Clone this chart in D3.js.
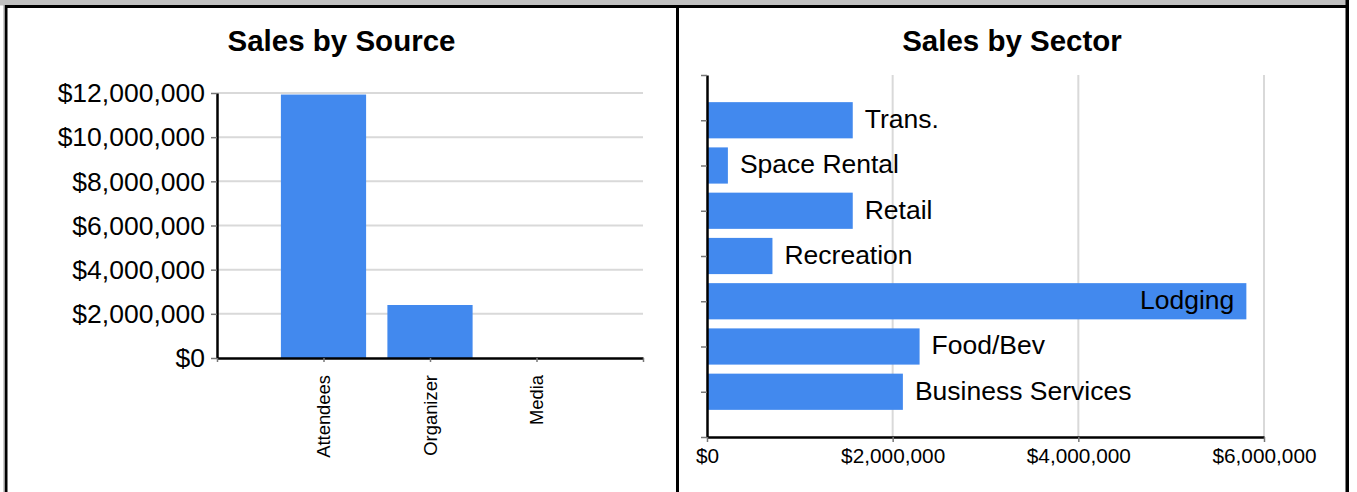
<!DOCTYPE html>
<html><head><meta charset="utf-8">
<script src="https://cdn.jsdelivr.net/npm/d3@7"></script>
<style>
html,body{margin:0;padding:0;background:#fff;}
svg{display:block;font-family:"Liberation Sans",Arial,sans-serif;}
</style></head>
<body>
<svg id="c" width="1357" height="492"></svg>
<script>
const sourceCategories = ["Attendees", "Organizer", "Media"];
const sourceValues = [11930000, 2400000, 0];
const sourceTicks = [0, 2000000, 4000000, 6000000, 8000000, 10000000, 12000000];

const sectorCategories = ["Trans.", "Space Rental", "Retail", "Recreation", "Lodging", "Food/Bev", "Business Services"];
const sectorValues = [1570000, 225000, 1570000, 705000, 5810000, 2290000, 2110000];
const sectorTicks = [0, 2000000, 4000000, 6000000];

const BAR = "#4289ee";
const GRID = "#d9d9d9";
const fmt = d => "$" + d3.format(",")(d);

const svg = d3.select("#c");

// frame
svg.append("rect").attr("x",0).attr("y",0).attr("width",1346).attr("height",5.5).attr("fill","#c0c0c0");
svg.append("rect").attr("x",5).attr("y",5).attr("width",1344).attr("height",3).attr("fill","#000");
svg.append("rect").attr("x",3.5).attr("y",5).attr("width",1.5).attr("height",487).attr("fill","#999");
svg.append("rect").attr("x",5).attr("y",5).attr("width",2.5).attr("height",487).attr("fill","#000");
svg.append("rect").attr("x",676).attr("y",5).attr("width",3).attr("height",487).attr("fill","#000");
svg.append("rect").attr("x",1345.5).attr("y",0).attr("width",3.5).attr("height",492).attr("fill","#000");

// ---------- Left chart: Sales by Source ----------
{
  const g = svg.append("g");
  const x = d3.scaleLinear().domain([0, sourceCategories.length + 1]).range([217, 643]);
  const y = d3.scaleLinear().domain([0, 12000000]).range([358, 93]);
  const step = x(1) - x(0);
  const bw = step * 0.8;

  g.append("text").attr("x", 341.5).attr("y", 51).attr("text-anchor","middle")
    .attr("font-size", 29.5).attr("font-weight","bold").text("Sales by Source");

  g.selectAll(".grid").data(sourceTicks.filter(d => d > 0)).join("line")
    .attr("x1", x(0)).attr("x2", x(sourceCategories.length + 1))
    .attr("y1", d => y(d)).attr("y2", d => y(d))
    .attr("stroke", GRID).attr("stroke-width", 2);

  g.selectAll(".bar").data(sourceValues).join("rect")
    .attr("x", (d,i) => x(i+1) - bw/2).attr("width", bw)
    .attr("y", d => y(d)).attr("height", d => y(0) - y(d))
    .attr("fill", BAR);

  const ya = g.append("g").attr("transform", `translate(${x(0)},0)`)
    .call(d3.axisLeft(y).tickValues(sourceTicks).tickFormat(fmt).tickSize(6).tickPadding(6).tickSizeOuter(0));
  ya.select(".domain").attr("stroke","#000").attr("stroke-width",2.5);
  ya.selectAll(".tick line").attr("stroke","#777").attr("stroke-width",1.5);
  ya.selectAll(".tick text").attr("font-size",26.5).attr("fill","#000")
    .attr("font-family",'"Liberation Sans",Arial,sans-serif').attr("dy","0.33em");

  const xa = g.append("g").attr("transform", `translate(0,${y(0)})`)
    .call(d3.axisBottom(x).tickValues(d3.range(0, sourceCategories.length + 2))
      .tickFormat(i => sourceCategories[i-1] || "").tickSize(4).tickSizeOuter(0));
  xa.select(".domain").attr("stroke","#000").attr("stroke-width",2.5);
  xa.selectAll(".tick line").attr("stroke","#777").attr("stroke-width",1.5);
  xa.selectAll(".tick text").attr("font-size",18.4).attr("fill","#000")
    .attr("font-family",'"Liberation Sans",Arial,sans-serif')
    .attr("text-anchor","end").attr("transform","rotate(-90)")
    .attr("x",-17).attr("y",0).attr("dy","0.35em");
}

// ---------- Right chart: Sales by Sector ----------
{
  const g = svg.append("g");
  const x = d3.scaleLinear().domain([0, 6000000]).range([707, 1264]);
  const y = d3.scaleLinear().domain([0, sectorCategories.length + 1]).range([75, 437]);
  const step = y(1) - y(0);
  const bh = step * 0.8;

  g.append("text").attr("x", 1012).attr("y", 51).attr("text-anchor","middle")
    .attr("font-size", 29.5).attr("font-weight","bold").text("Sales by Sector");

  g.selectAll(".grid").data(sectorTicks.filter(d => d > 0)).join("line")
    .attr("x1", d => x(d)).attr("x2", d => x(d))
    .attr("y1", y(0)).attr("y2", y(sectorCategories.length + 1))
    .attr("stroke", GRID).attr("stroke-width", 2);

  g.selectAll(".bar").data(sectorValues).join("rect")
    .attr("x", x(0)).attr("width", d => x(d) - x(0))
    .attr("y", (d,i) => y(i+1) - bh/2).attr("height", bh)
    .attr("fill", BAR);

  const labels = g.selectAll(".lbl").data(sectorValues).join("text")
    .attr("font-size", 26.5).attr("fill","#000")
    .attr("y", (d,i) => y(i+1)).attr("dy","0.3em")
    .text((d,i) => sectorCategories[i]);
  labels.each(function(d){
    const t = d3.select(this);
    const w = this.getComputedTextLength();
    if (x(d) + 12 + w > 1330) {
      t.attr("x", x(d) - 12).attr("text-anchor","end");
    } else {
      t.attr("x", x(d) + 12).attr("text-anchor","start");
    }
  });

  const ya = g.append("g").attr("transform", `translate(${x(0)},0)`)
    .call(d3.axisLeft(y).tickValues(d3.range(0, sectorCategories.length + 2)).tickFormat("").tickSize(6).tickSizeOuter(0));
  ya.select(".domain").attr("stroke","#000").attr("stroke-width",2.5);
  ya.selectAll(".tick line").attr("stroke","#777").attr("stroke-width",1.5);

  const xa = g.append("g").attr("transform", `translate(0,${y(sectorCategories.length + 1)})`)
    .call(d3.axisBottom(x).tickValues(sectorTicks).tickFormat(fmt).tickSize(5).tickPadding(6).tickSizeOuter(0));
  xa.select(".domain").attr("stroke","#000").attr("stroke-width",2.5);
  xa.selectAll(".tick line").attr("stroke","#777").attr("stroke-width",1.5);
  xa.selectAll(".tick text").attr("font-size",20.8).attr("fill","#000")
    .attr("font-family",'"Liberation Sans",Arial,sans-serif');
}
</script>
</body></html>
